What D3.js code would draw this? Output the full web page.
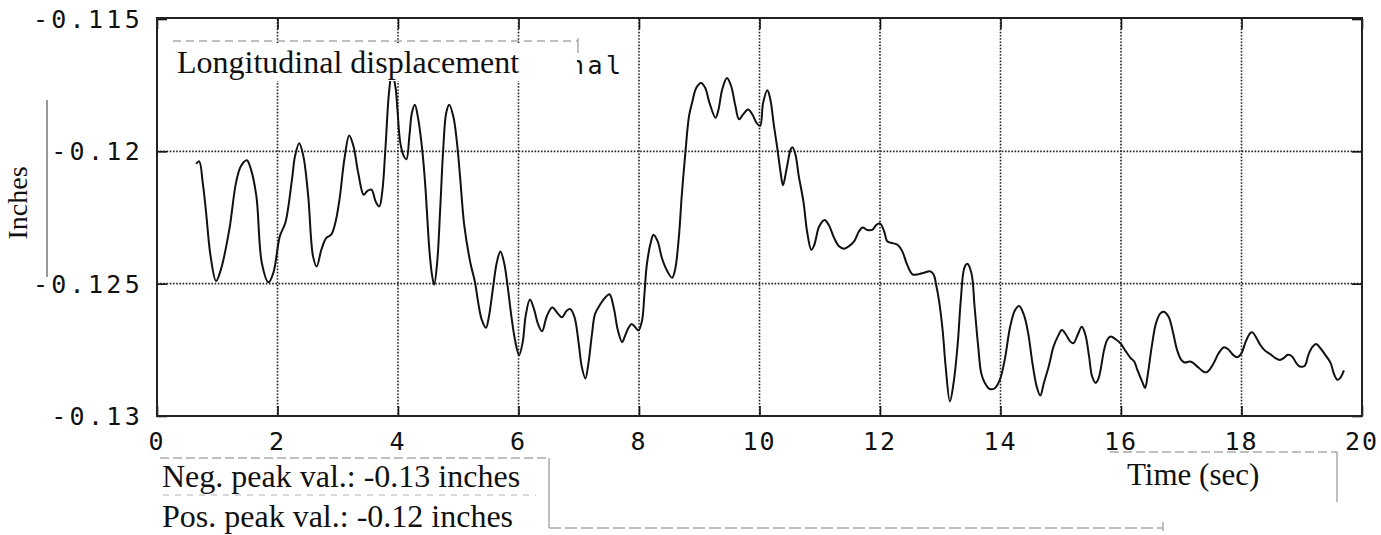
<!DOCTYPE html>
<html>
<head>
<meta charset="utf-8">
<script src="https://cdn.jsdelivr.net/npm/d3@7"></script>
<style>
  html, body { margin: 0; padding: 0; background: #fff; }
  svg { display: block; }
</style>
</head>
<body>
<svg id="chart"></svg>
<script>
    'use strict';

    // time axis (sec) and longitudinal displacement (inches)
    var timeSec = [
        0.65, 0.70, 0.76, 0.81, 0.89, 0.98, 1.06, 1.20, 1.31, 1.39, 1.49, 1.56, 1.65, 1.74, 1.85, 1.93,
        2.04, 2.13, 2.24, 2.29, 2.36, 2.43, 2.51, 2.59, 2.65, 2.73, 2.81, 2.89, 2.96, 3.03, 3.11, 3.19,
        3.26, 3.34, 3.43, 3.49, 3.56, 3.63, 3.69, 3.74, 3.79, 3.85, 3.90, 3.96, 3.99, 4.04, 4.10, 4.14,
        4.19, 4.23, 4.28, 4.33, 4.40, 4.45, 4.52, 4.56, 4.60, 4.65, 4.70, 4.75, 4.80, 4.85, 4.92, 4.98,
        5.03, 5.10, 5.20, 5.28, 5.33, 5.39, 5.46, 5.51, 5.58, 5.64, 5.70, 5.76, 5.82, 5.88, 5.94, 6.01,
        6.07, 6.12, 6.19, 6.26, 6.32, 6.39, 6.47, 6.56, 6.66, 6.72, 6.80, 6.86, 6.93, 7.00, 7.05, 7.11,
        7.16, 7.22, 7.27, 7.36, 7.44, 7.51, 7.58, 7.65, 7.72, 7.77, 7.83, 7.88, 7.94, 7.99, 8.05, 8.09,
        8.13, 8.20, 8.24, 8.31, 8.38, 8.47, 8.55, 8.60, 8.66, 8.71, 8.77, 8.83, 8.88, 8.95, 9.03, 9.10,
        9.17, 9.27, 9.32, 9.38, 9.46, 9.53, 9.60, 9.66, 9.73, 9.81, 9.88, 9.95, 10.01, 10.06, 10.13, 10.18,
        10.24, 10.29, 10.35, 10.39, 10.45, 10.52, 10.55, 10.60, 10.65, 10.73, 10.79, 10.86, 10.91, 10.99, 11.08, 11.15,
        11.24, 11.32, 11.40, 11.48, 11.57, 11.65, 11.71, 11.79, 11.87, 11.94, 12.00, 12.07, 12.12, 12.21, 12.29, 12.37,
        12.45, 12.54, 12.62, 12.73, 12.83, 12.89, 12.93, 12.98, 13.04, 13.09, 13.16, 13.22, 13.29, 13.34, 13.40, 13.45,
        13.52, 13.57, 13.63, 13.68, 13.74, 13.82, 13.91, 13.99, 14.07, 14.16, 14.24, 14.31, 14.39, 14.46, 14.53, 14.60,
        14.66, 14.72, 14.80, 14.88, 14.95, 15.02, 15.09, 15.16, 15.21, 15.28, 15.35, 15.41, 15.47, 15.52, 15.58, 15.63,
        15.72, 15.77, 15.83, 15.91, 15.99, 16.08, 16.16, 16.22, 16.27, 16.36, 16.40, 16.44, 16.51, 16.58, 16.65, 16.71,
        16.79, 16.86, 16.93, 17.00, 17.06, 17.14, 17.19, 17.28, 17.36, 17.42, 17.47, 17.54, 17.62, 17.71, 17.78, 17.86,
        17.93, 18.00, 18.07, 18.14, 18.18, 18.25, 18.31, 18.39, 18.47, 18.56, 18.64, 18.70, 18.77, 18.84, 18.91, 18.97,
        19.05, 19.11, 19.18, 19.24, 19.31, 19.39, 19.48, 19.53, 19.59, 19.64, 19.70
    ];

    var dispIn = [
        -0.12047, -0.12038, -0.12120, -0.12220, -0.12397, -0.12490, -0.12447, -0.12296, -0.12120, -0.12057, -0.12034, -0.12069, -0.12170, -0.12422, -0.12495, -0.12460,
        -0.12320, -0.12270, -0.12107, -0.12019, -0.11969, -0.12019, -0.12170, -0.12397, -0.12435, -0.12370, -0.12327, -0.12315, -0.12270, -0.12180, -0.12030, -0.11940,
        -0.11980, -0.12082, -0.12164, -0.12150, -0.12145, -0.12190, -0.12208, -0.12150, -0.11994, -0.11780, -0.11700, -0.11760, -0.11840, -0.11970, -0.12020, -0.12030,
        -0.11940, -0.11855, -0.11824, -0.11870, -0.11990, -0.12120, -0.12370, -0.12460, -0.12504, -0.12420, -0.12220, -0.11994, -0.11855, -0.11824, -0.11870, -0.11970,
        -0.12095, -0.12280, -0.12420, -0.12497, -0.12570, -0.12636, -0.12667, -0.12623, -0.12510, -0.12420, -0.12378, -0.12420, -0.12510, -0.12620, -0.12710, -0.12770,
        -0.12720, -0.12620, -0.12560, -0.12598, -0.12650, -0.12680, -0.12623, -0.12590, -0.12615, -0.12627, -0.12602, -0.12596, -0.12627, -0.12727, -0.12814, -0.12858,
        -0.12802, -0.12690, -0.12615, -0.12577, -0.12552, -0.12540, -0.12590, -0.12677, -0.12721, -0.12696, -0.12665, -0.12652, -0.12665, -0.12677, -0.12640, -0.12540,
        -0.12428, -0.12340, -0.12315, -0.12340, -0.12403, -0.12453, -0.12478, -0.12446, -0.12328, -0.12166, -0.12004, -0.11867, -0.11817, -0.11761, -0.11742, -0.11761,
        -0.11817, -0.11873, -0.11842, -0.11767, -0.11723, -0.11754, -0.11829, -0.11879, -0.11860, -0.11842, -0.11860, -0.11892, -0.11904, -0.11817, -0.11769, -0.11804,
        -0.11904, -0.11979, -0.12079, -0.12128, -0.12066, -0.11991, -0.11985, -0.12016, -0.12091, -0.12191, -0.12303, -0.12372, -0.12353, -0.12284, -0.12259, -0.12278,
        -0.12328, -0.12359, -0.12368, -0.12359, -0.12340, -0.12303, -0.12288, -0.12297, -0.12297, -0.12278, -0.12272, -0.12303, -0.12340, -0.12347, -0.12353, -0.12378,
        -0.12428, -0.12465, -0.12465, -0.12459, -0.12453, -0.12465, -0.12502, -0.12565, -0.12677, -0.12814, -0.12945, -0.12877, -0.12727, -0.12565, -0.12440, -0.12425,
        -0.12463, -0.12588, -0.12738, -0.12838, -0.12875, -0.12898, -0.12894, -0.12863, -0.12788, -0.12663, -0.12600, -0.12584, -0.12619, -0.12688, -0.12800, -0.12888,
        -0.12923, -0.12875, -0.12813, -0.12738, -0.12700, -0.12675, -0.12694, -0.12719, -0.12725, -0.12694, -0.12663, -0.12694, -0.12775, -0.12850, -0.12875, -0.12856,
        -0.12750, -0.12713, -0.12700, -0.12710, -0.12725, -0.12756, -0.12781, -0.12794, -0.12825, -0.12875, -0.12894, -0.12850, -0.12738, -0.12650, -0.12613, -0.12606,
        -0.12625, -0.12681, -0.12750, -0.12788, -0.12798, -0.12794, -0.12798, -0.12816, -0.12831, -0.12835, -0.12825, -0.12800, -0.12763, -0.12740, -0.12748, -0.12769,
        -0.12778, -0.12763, -0.12719, -0.12688, -0.12684, -0.12706, -0.12731, -0.12753, -0.12765, -0.12781, -0.12788, -0.12781, -0.12769, -0.12775, -0.12800, -0.12813,
        -0.12810, -0.12769, -0.12738, -0.12728, -0.12744, -0.12769, -0.12800, -0.12838, -0.12863, -0.12856, -0.12828
    ];

    var xTicks = [0, 2, 4, 6, 8, 10, 12, 14, 16, 18, 20];
    var yTicks = [-0.13, -0.125, -0.12, -0.115];
    var yTickLabels = ['-0.13', '-0.125', '-0.12', '-0.115'];

(function (d3) {
    var width = 1381;
    var height = 535;

    var plotLeft = 157, plotRight = 1362, plotTop = 19, plotBottom = 416;

    var svg = d3.select('#chart')
        .attr('width', width)
        .attr('height', height);

    var scaleX = d3.scaleLinear().domain([0, 20]).range([plotLeft, plotRight]);
    var scaleY = d3.scaleLinear().domain([-0.13, -0.115]).range([plotBottom, plotTop]);

    var monoFont = '"DejaVu Sans Mono", "Liberation Mono", monospace';
    var serifFont = '"Liberation Serif", "DejaVu Serif", serif';

    // dotted grid
    var grid = svg.append('g').attr('class', 'grid');

    grid.selectAll('line.vgrid')
        .data(xTicks.filter(function (d) { return d > 0 && d < 20; }))
        .enter().append('line')
        .attr('class', 'vgrid')
        .attr('x1', function (d) { return scaleX(d); })
        .attr('x2', function (d) { return scaleX(d); })
        .attr('y1', plotTop)
        .attr('y2', plotBottom)
        .attr('stroke', '#222')
        .attr('stroke-width', 1.6)
        .attr('stroke-dasharray', '1.6,1.6');

    grid.selectAll('line.hgrid')
        .data(yTicks.filter(function (d) { return d > -0.13 && d < -0.115; }))
        .enter().append('line')
        .attr('class', 'hgrid')
        .attr('x1', plotLeft)
        .attr('x2', plotRight)
        .attr('y1', function (d) { return scaleY(d); })
        .attr('y2', function (d) { return scaleY(d); })
        .attr('stroke', '#222')
        .attr('stroke-width', 1.6)
        .attr('stroke-dasharray', '1.6,1.6');

    // displacement trace
    var line = d3.line()
        .x(function (d) { return scaleX(d[0]); })
        .y(function (d) { return scaleY(d[1]); })
        .curve(d3.curveCatmullRom.alpha(0.5));

    svg.append('path')
        .datum(d3.zip(timeSec, dispIn))
        .attr('d', line)
        .attr('fill', 'none')
        .attr('stroke', '#111')
        .attr('stroke-width', 2)
        .attr('stroke-linejoin', 'round');

    // axes: inward ticks only, labels drawn separately
    var tickLen = 10;
    var styleTicks = function (g) {
        g.select('.domain').remove();
        g.selectAll('line').attr('stroke', '#111').attr('stroke-width', 1.6);
    };

    svg.append('g')
        .attr('transform', 'translate(0,' + plotBottom + ')')
        .call(d3.axisTop(scaleX).tickValues(xTicks).tickSize(tickLen).tickFormat(''))
        .call(styleTicks);

    svg.append('g')
        .attr('transform', 'translate(0,' + plotTop + ')')
        .call(d3.axisBottom(scaleX).tickValues(xTicks).tickSize(tickLen).tickFormat(''))
        .call(styleTicks);

    svg.append('g')
        .attr('transform', 'translate(' + plotLeft + ',0)')
        .call(d3.axisRight(scaleY).tickValues(yTicks).tickSize(tickLen).tickFormat(''))
        .call(styleTicks);

    svg.append('g')
        .attr('transform', 'translate(' + plotRight + ',0)')
        .call(d3.axisLeft(scaleY).tickValues(yTicks).tickSize(tickLen).tickFormat(''))
        .call(styleTicks);

    // frame
    svg.append('rect')
        .attr('x', plotLeft)
        .attr('y', plotTop - 1)
        .attr('width', plotRight - plotLeft)
        .attr('height', plotBottom - plotTop + 1)
        .attr('fill', 'none')
        .attr('stroke', '#222')
        .attr('stroke-width', 2);

    // tick labels
    svg.append('g').selectAll('text')
        .data(xTicks)
        .enter().append('text')
        .attr('x', function (d) { return scaleX(d); })
        .attr('y', plotBottom + 34)
        .attr('text-anchor', 'middle')
        .attr('font-family', monoFont)
        .attr('font-size', 25)
        .attr('letter-spacing', 2)
        .attr('fill', '#111')
        .text(function (d) { return d; });

    svg.append('g').selectAll('text')
        .data(yTicks)
        .enter().append('text')
        .attr('x', plotLeft - 14)
        .attr('y', function (d) { return scaleY(d) + 9; })
        .attr('text-anchor', 'end')
        .attr('font-family', monoFont)
        .attr('font-size', 25)
        .attr('letter-spacing', 3.3)
        .attr('fill', '#111')
        .text(function (d, i) { return yTickLabels[i]; });

    // y axis title
    svg.append('text')
        .attr('transform', 'translate(27,203) rotate(-90)')
        .attr('text-anchor', 'middle')
        .attr('font-family', serifFont)
        .attr('font-size', 28)
        .attr('fill', '#111')
        .text('Inches');

    svg.append('line')
        .attr('x1', 47).attr('x2', 47)
        .attr('y1', 100).attr('y2', 277)
        .attr('stroke', '#777')
        .attr('stroke-width', 1.5);

    // tail of the plotter title, the rest is covered by the pasted label
    svg.append('clipPath')
        .attr('id', 'titleClip')
        .append('rect')
        .attr('x', 577).attr('y', 40)
        .attr('width', 80).attr('height', 45);

    svg.append('text')
        .attr('x', 569)
        .attr('y', 74)
        .attr('clip-path', 'url(#titleClip)')
        .attr('font-family', monoFont)
        .attr('font-size', 25)
        .attr('letter-spacing', 3.4)
        .attr('fill', '#111')
        .text('nal');

    svg.append('rect')
        .attr('x', 170)
        .attr('y', 43)
        .attr('width', 407)
        .attr('height', 38)
        .attr('fill', '#fff');

    svg.append('line')
        .attr('x1', 173).attr('x2', 578)
        .attr('y1', 41).attr('y2', 41)
        .attr('stroke', '#aaa')
        .attr('stroke-width', 1.5)
        .attr('stroke-dasharray', '8,5');

    svg.append('line')
        .attr('x1', 578).attr('x2', 578)
        .attr('y1', 38).attr('y2', 53)
        .attr('stroke', '#aaa')
        .attr('stroke-width', 1.5);

    svg.append('text')
        .attr('x', 177)
        .attr('y', 73)
        .attr('font-family', serifFont)
        .attr('font-size', 32)
        .attr('fill', '#111')
        .text('Longitudinal displacement');

    // pasted captions below the plot
    var paper = svg.append('g')
        .attr('stroke', '#aaa')
        .attr('stroke-width', 1.5)
        .attr('fill', 'none');

    paper.append('line').attr('x1', 160).attr('x2', 549).attr('y1', 458).attr('y2', 458).attr('stroke-dasharray', '9,4');
    paper.append('line').attr('x1', 549).attr('x2', 549).attr('y1', 458).attr('y2', 528);
    paper.append('line').attr('x1', 163).attr('x2', 536).attr('y1', 495).attr('y2', 495).attr('stroke-dasharray', '6,6').attr('stroke', '#ccc');
    paper.append('line').attr('x1', 549).attr('x2', 1163).attr('y1', 528).attr('y2', 528).attr('stroke-dasharray', '12,4');
    paper.append('line').attr('x1', 1163).attr('x2', 1163).attr('y1', 522).attr('y2', 531);
    paper.append('line').attr('x1', 1110).attr('x2', 1337).attr('y1', 452).attr('y2', 452).attr('stroke-dasharray', '9,4');
    paper.append('line').attr('x1', 1337).attr('x2', 1337).attr('y1', 452).attr('y2', 502);

    svg.append('text')
        .attr('x', 162)
        .attr('y', 487)
        .attr('font-family', serifFont)
        .attr('font-size', 32)
        .attr('fill', '#111')
        .text('Neg. peak val.: -0.13 inches');

    svg.append('text')
        .attr('x', 162)
        .attr('y', 527)
        .attr('font-family', serifFont)
        .attr('font-size', 32)
        .attr('fill', '#111')
        .text('Pos. peak val.: -0.12 inches');

    svg.append('text')
        .attr('x', 1127)
        .attr('y', 485)
        .attr('font-family', serifFont)
        .attr('font-size', 31)
        .attr('fill', '#111')
        .text('Time (sec)');
}(window.d3));
</script>
</body>
</html>
